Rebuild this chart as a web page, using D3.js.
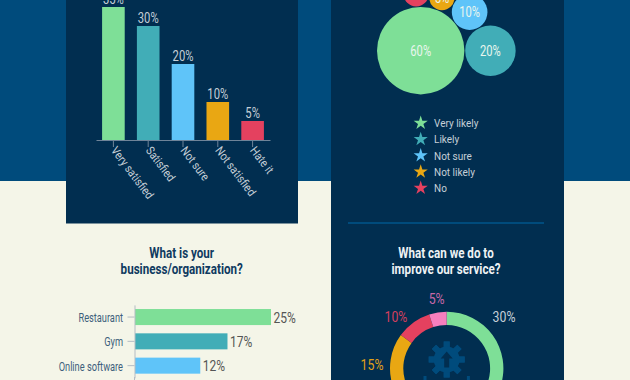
<!DOCTYPE html>
<html><head><meta charset="utf-8">
<script src="https://cdn.jsdelivr.net/npm/d3@7"></script>
<style>html,body{margin:0;padding:0;background:#f4f5e8;overflow:hidden}svg{display:block}text{font-family:Roboto,sans-serif}</style>
</head><body><svg id="c" width="630" height="380"></svg>
<script>
const satisfactionCategories = ["Very satisfied","Satisfied","Not sure","Not satisfied","Hate it"];
const satisfactionValues = [35,30,20,10,5];
const likelyCategories = ["Very likely","Likely","Not sure","Not likely","No"];
const likelyValues = [60,20,10,5,5];
const businessCategories = ["Restaurant","Gym","Online software"];
const businessValues = [25,17,12];
const improveValues = [30,40,15,10,5];
const palette = ["#7edf97","#41adb7","#5fc4f9","#e9a713","#e4415f"];
const improveColors = ["#7edf97","#5fc4f9","#e9a713","#e4415f","#f77fbe"];
const improveLabelColors = ["#c6d0d8",null,"#e0a018","#d43f5e","#c668a8"];

const NAVY="#012e50", BLUE="#004b7c", CREAM="#f4f5e8", LIGHT="#c6d0d8";
const svg=d3.select("#c");
const rect=(x,y,w,h,f)=>svg.append("rect").attr("x",x).attr("y",y).attr("width",w).attr("height",h).attr("fill",f);
const label=(g,x,y,t,o)=>g.append("text")
  .attr("transform",`translate(${x},${y}) ${o.rot?`rotate(${o.rot})`:""} scale(${o.sx||1},1)`)
  .attr("text-anchor",o.anchor||"middle").attr("font-size",o.size).attr("font-weight",o.weight||400)
  .attr("fill",o.fill).text(t);

rect(0,0,630,181,BLUE); rect(0,181,630,199,CREAM);
rect(66,0,232,223.5,NAVY); rect(331,0,233,380,NAVY);
rect(348,222,196,2,BLUE);

/* column chart */
const x1=d3.scaleBand().domain(satisfactionCategories).range([96,270]).paddingInner(.35).paddingOuter(.175);
const y1=d3.scaleLinear().domain([0,35]).range([140,7]);
const g1=svg.append("g");
g1.selectAll("rect").data(satisfactionValues).join("rect")
 .attr("x",(d,i)=>x1(satisfactionCategories[i])).attr("width",x1.bandwidth())
 .attr("y",d=>y1(d)).attr("height",d=>y1(0)-y1(d)).attr("fill",(d,i)=>palette[i]);
const ax1=svg.append("g").attr("transform","translate(0,140)").call(d3.axisBottom(x1).tickSize(7).tickSizeOuter(0).tickFormat(""));
ax1.selectAll("path,line").attr("stroke","#6f8499").attr("stroke-width",1);
satisfactionValues.forEach((v,i)=>{
  const c=satisfactionCategories[i], cx=x1(c)+x1.bandwidth()/2;
  label(svg,cx,y1(v)-3.5,v+"%",{size:15,sx:.75,fill:LIGHT});
  label(svg,cx-3,150.5,c,{size:12,sx:.86,rot:53,anchor:"start",fill:LIGHT});
});

/* bubbles: first two side by side, each later one tangent to the largest and to the one before */
const rScale=d3.scaleSqrt().domain([0,60]).range([0,43.7]);
const gap=.4;
const nodes=likelyValues.map((v,i)=>({v,i,r:rScale(v)}));
nodes[0].x=0; nodes[0].y=0;
nodes[1].x=nodes[0].r+nodes[1].r+2*gap; nodes[1].y=0;
for(let i=2;i<nodes.length;i++){
  const a=nodes[0], p=nodes[i-1], n=nodes[i];
  const ra=a.r+n.r+2*gap, rp=p.r+n.r+2*gap, d=Math.hypot(p.x,p.y);
  const ang=Math.atan2(p.y,p.x)-Math.acos((ra*ra+d*d-rp*rp)/(2*ra*d));
  n.x=ra*Math.cos(ang); n.y=ra*Math.sin(ang);
}
const g2=svg.append("g").attr("transform","translate(420.7,50.7)");
g2.selectAll("circle").data(nodes).join("circle")
 .attr("cx",d=>d.x).attr("cy",d=>d.y).attr("r",d=>d.r).attr("fill",d=>palette[d.i]);
nodes.forEach(d=>label(g2,d.x,d.y+5,d.v+"%",{size:14,sx:.8,fill:"#e9f6ee"}));

/* legend */
const yL=d3.scalePoint().domain(likelyCategories).range([123,188]);
likelyCategories.forEach((c,i)=>{
  svg.append("path").attr("d",d3.symbol(d3.symbolStar,62)()).attr("fill",palette[i])
    .attr("transform",`translate(420.7,${yL(c)})`);
  label(svg,434,yL(c)+4,c,{size:11,sx:.91,anchor:"start",fill:LIGHT});
});

/* titles */
[["What is your",253],["business/organization?",268.7]].forEach(([t,y])=>
  label(svg,181.7,y+5,t,{size:14,sx:.83,weight:700,fill:"#0f3a60"}));
[["What can we do to",253],["improve our service?",268.7]].forEach(([t,y])=>
  label(svg,446,y+5,t,{size:14,sx:.83,weight:700,fill:"#eef2f4"}));

/* horizontal bars */
const yB=d3.scaleBand().domain(businessCategories).range([304.9,377.8]).paddingInner(.34).paddingOuter(.17);
const xB=d3.scaleLinear().domain([0,25]).range([135,271]);
svg.append("g").selectAll("rect").data(businessValues).join("rect")
 .attr("x",xB(0)).attr("y",(d,i)=>yB(businessCategories[i])).attr("height",yB.bandwidth())
 .attr("width",d=>xB(d)-xB(0)).attr("fill",(d,i)=>palette[i]);
const ax2=svg.append("g").attr("transform","translate(134.5,0)").call(d3.axisLeft(yB).tickSize(7).tickSizeOuter(0).tickFormat(""));
ax2.selectAll("path,line").attr("stroke","#b4bcc4").attr("stroke-width",1);
svg.append("line").attr("x1",134.5).attr("x2",134.5).attr("y1",377).attr("y2",380).attr("stroke","#b4bcc4");
businessValues.forEach((v,i)=>{
  const c=businessCategories[i], cy=yB(c)+yB.bandwidth()/2;
  label(svg,123,cy+5,c,{size:12,sx:.77,anchor:"end",fill:"#3d5f7c"});
  label(svg,xB(v)+2.5,cy+5.5,v+"%",{size:14,sx:.86,anchor:"start",fill:"#555"});
});

/* donut */
const cx=446.7, cy=368.4;
const pie=d3.pie().sort(null)(improveValues);
const arc=d3.arc().innerRadius(43.4).outerRadius(56.7);
const labelArc=d3.arc().innerRadius(70).outerRadius(70);
const g3=svg.append("g").attr("transform",`translate(${cx},${cy})`);
g3.selectAll("path").data(pie).join("path").attr("d",arc).attr("fill",(d,i)=>improveColors[i]);
const labelNudge=[[.7,-10.6],null,[-5.6,7.3],[-9.6,4.9],[.9,-.3]];
pie.forEach((p,i)=>{
  if(!labelNudge[i]) return;
  const [a,b]=labelArc.centroid(p);
  label(g3,a+labelNudge[i][0],b+labelNudge[i][1]+5,p.value+"%",{size:14,sx:.88,fill:improveLabelColors[i]});
});

/* gear icon */
const gear=svg.append("g").attr("transform","translate(446.7,359.5)").attr("fill",BLUE);
d3.range(8).forEach(i=>gear.append("rect").attr("x",-3).attr("y",-18).attr("width",6).attr("height",36).attr("transform",`rotate(${i*45})`));
gear.append("circle").attr("r",13);
gear.append("path").attr("d","M0-8L6-1H2.5V8H-2.5V-1H-6Z").attr("fill",NAVY);
[-21.7,21.7].forEach(dx=>svg.append("rect").attr("x",446.7+dx-1.5).attr("y",376).attr("width",3).attr("height",4).attr("fill",BLUE));
</script></body></html>
